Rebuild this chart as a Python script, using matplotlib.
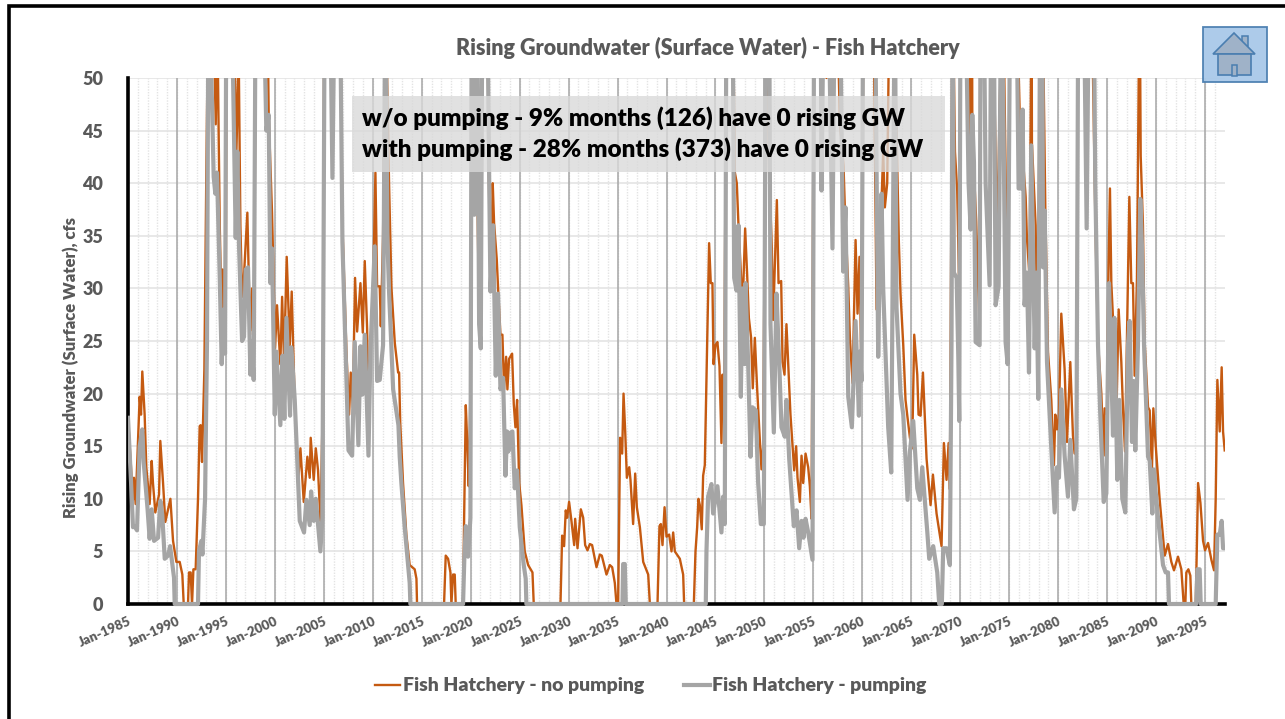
import matplotlib
matplotlib.use('Agg')
import matplotlib.pyplot as plt
from matplotlib.patches import Rectangle, Polygon

plt.rcParams['font.family'] = ['Lato', 'DejaVu Sans']
plt.rcParams['font.weight'] = 800

# values: decimal year, cfs (above 50 is cut off by the axis)
no_pump_years = [
    1985.00, 1985.51, 1985.61, 1985.78, 1986.19, 1986.33, 1986.46, 1986.70, 1986.87, 1987.21,
    1987.42, 1987.55, 1987.79, 1988.17, 1988.30, 1988.58, 1988.81, 1989.09, 1989.33, 1989.60,
    1989.94, 1990.28, 1990.55, 1990.69, 1991.13, 1991.23, 1991.40, 1991.54, 1991.68, 1991.91,
    1992.15, 1992.32, 1992.42, 1992.56, 1992.80, 1993.00, 1993.17, 1993.69, 1993.96, 1994.13,
    1994.37, 1994.57, 1994.67, 1994.78, 1994.98, 1995.08, 1995.73, 1996.07, 1996.31, 1996.48,
    1996.65, 1996.82, 1997.19, 1997.36, 1997.50, 1997.67, 1997.77, 1997.91, 1998.04, 1998.79,
    1999.30, 1999.37, 1999.54, 1999.71, 1999.82, 2000.02, 2000.22, 2000.43, 2000.56, 2000.74,
    2000.94, 2001.21, 2001.52, 2001.72, 2001.99, 2002.37, 2002.61, 2002.95, 2003.32, 2003.56,
    2003.66, 2003.97, 2004.18, 2004.41, 2004.65, 2004.72, 2004.92, 2005.03, 2005.61, 2005.88,
    2006.12, 2006.63, 2006.90, 2007.31, 2007.58, 2007.75, 2007.96, 2008.19, 2008.40, 2008.74,
    2008.98, 2009.18, 2009.42, 2009.56, 2009.76, 2010.03, 2010.27, 2010.44, 2010.71, 2010.82,
    2011.05, 2011.29, 2011.50, 2011.67, 2011.91, 2012.25, 2012.59, 2012.69, 2012.80, 2013.09,
    2013.43, 2013.77, 2014.28, 2014.46, 2014.52, 2017.28, 2017.45, 2017.69, 2017.93, 2018.03,
    2018.20, 2018.37, 2018.47, 2019.22, 2019.33, 2019.50, 2019.67, 2019.80, 2020.01, 2020.18,
    2020.59, 2020.86, 2021.03, 2021.20, 2021.68, 2021.85, 2022.02, 2022.25, 2022.39, 2022.66,
    2022.83, 2023.04, 2023.24, 2023.41, 2023.62, 2023.75, 2023.92, 2024.23, 2024.40, 2024.57,
    2024.74, 2024.95, 2025.18, 2025.52, 2025.87, 2026.31, 2026.44, 2029.17, 2029.34, 2029.54,
    2029.71, 2029.85, 2030.05, 2030.29, 2030.57, 2030.67, 2030.91, 2031.25, 2031.49, 2031.69,
    2031.93, 2032.17, 2032.40, 2032.85, 2033.19, 2033.39, 2033.87, 2034.21, 2034.45, 2034.72,
    2034.89, 2035.06, 2035.16, 2035.26, 2035.47, 2035.61, 2035.78, 2035.95, 2036.19, 2036.32,
    2036.59, 2036.80, 2036.97, 2037.28, 2037.62, 2038.13, 2038.30, 2039.08, 2039.28, 2039.42,
    2039.59, 2039.80, 2040.00, 2040.27, 2040.51, 2040.68, 2040.85, 2041.36, 2041.70, 2041.80,
    2042.79, 2042.96, 2043.13, 2043.26, 2043.40, 2043.60, 2043.74, 2043.91, 2044.08, 2044.35,
    2044.52, 2044.69, 2044.80, 2045.00, 2045.20, 2045.41, 2045.61, 2045.72, 2045.89, 2046.02,
    2046.19, 2046.74, 2046.98, 2047.18, 2047.35, 2047.59, 2047.76, 2048.03, 2048.24, 2048.41,
    2048.64, 2048.81, 2049.02, 2049.26, 2049.53, 2049.70, 2049.87, 2050.07, 2050.28, 2050.48,
    2050.76, 2050.89, 2051.27, 2051.44, 2051.71, 2051.85, 2052.05, 2052.25, 2052.49, 2052.66,
    2053.04, 2053.24, 2053.38, 2053.62, 2053.79, 2053.96, 2054.20, 2054.47, 2054.64, 2054.81,
    2055.08, 2056.00, 2056.34, 2057.02, 2057.36, 2057.70, 2058.08, 2058.22, 2058.56, 2058.73,
    2059.00, 2059.31, 2059.51, 2059.71, 2059.92, 2060.12, 2060.94, 2061.21, 2061.45, 2061.69,
    2061.79, 2062.13, 2062.30, 2062.54, 2062.74, 2063.15, 2063.49, 2063.73, 2063.90, 2064.18,
    2064.41, 2064.58, 2064.86, 2065.09, 2065.30, 2065.61, 2065.74, 2065.95, 2066.19, 2066.56,
    2066.97, 2067.21, 2067.58, 2068.09, 2068.33, 2068.60, 2068.81, 2068.94, 2069.22, 2069.46,
    2069.69, 2069.90, 2070.03, 2070.95, 2071.02, 2071.19, 2071.23, 2071.36, 2071.63, 2071.74,
    2071.98, 2072.08, 2073.00, 2073.27, 2073.68, 2073.78, 2074.02, 2074.36, 2074.70, 2074.73,
    2074.90, 2075.11, 2075.72, 2076.16, 2076.33, 2076.68, 2076.81, 2077.08, 2077.29, 2077.32,
    2077.70, 2077.77, 2077.97, 2078.17, 2078.38, 2078.62, 2078.69, 2078.96, 2079.30, 2079.57,
    2079.71, 2079.88, 2080.08, 2080.32, 2080.66, 2080.90, 2081.24, 2081.51, 2081.68, 2081.85,
    2082.06, 2082.94, 2083.56, 2083.83, 2084.07, 2084.41, 2084.65, 2084.75, 2084.99, 2085.12,
    2085.29, 2085.43, 2085.60, 2085.80, 2085.94, 2086.18, 2086.45, 2086.62, 2086.83, 2087.06,
    2087.27, 2087.47, 2087.64, 2087.81, 2088.05, 2088.32, 2088.43, 2088.66, 2088.83, 2089.18,
    2089.35, 2089.58, 2089.72, 2089.96, 2090.37, 2090.88, 2091.22, 2091.56, 2091.83, 2092.24,
    2092.58, 2092.82, 2092.99, 2093.09, 2093.30, 2093.50, 2093.60, 2094.05, 2094.29, 2094.53,
    2094.80, 2095.00, 2095.31, 2095.65, 2095.92, 2096.09, 2096.26, 2096.50, 2096.70, 2096.84,
    2097.01,
]
no_pump_cfs = [
    17.7, 9.9, 12, 9.5, 19.7, 18, 22.1, 18, 13, 9.5,
    13.6, 11.5, 8.7, 10.4, 15.5, 11.5, 7.8, 9, 10, 6,
    4, 4, 2.8, 0, 0, 3, 3, 0, 3.3, 3.3,
    10, 16.9, 17, 13.5, 22.3, 41, 55, 58, 45.6, 55,
    36, 27, 31.8, 27, 26, 60, 62, 43, 52, 36,
    29.2, 30.8, 37.2, 30, 26, 30, 25.6, 30, 60, 65,
    52, 46.5, 42, 37.2, 33, 24.3, 28.4, 25, 22.8, 29.2,
    23, 33, 24.6, 29.7, 20.4, 11.5, 14.8, 9.7, 14, 12,
    15.8, 11.8, 14.8, 12.7, 7.9, 11, 20, 55, 60, 52,
    60, 60, 36, 24, 18, 22, 18.7, 31, 25.9, 30.5,
    25.8, 32.6, 26.2, 19.4, 24, 30, 41, 30.2, 30.2, 26.4,
    35, 60, 48, 39.7, 30, 24.8, 22, 22, 17.3, 11.5,
    6.6, 3.7, 3.3, 2.4, 0, 0, 4.6, 4.3, 3, 0,
    2.8, 2.8, 0, 0, 8.2, 18.9, 14.8, 11.2, 22, 60,
    45, 27, 24.5, 60, 60, 41, 30, 40, 36.2, 32.8,
    29.4, 25.6, 25.6, 20.4, 23.5, 20.4, 23.3, 23.8, 19, 16.8,
    19.4, 11.5, 9.4, 5, 3.7, 3, 0, 0, 6.5, 5.5,
    8.9, 8.2, 9.7, 7.9, 5.6, 8.1, 5.3, 9, 8.2, 5.6,
    5.1, 5.7, 5.6, 3.5, 4.7, 4.6, 2.8, 3.7, 3.5, 2,
    0, 0, 8, 15.8, 14.3, 20, 16.4, 12, 13, 11.8,
    7.6, 12.4, 9.2, 7.3, 4, 2.8, 0, 0, 7.4, 7.6,
    5.6, 9.2, 6.4, 6.6, 5, 6.8, 5, 4.3, 2.8, 0,
    0, 5, 7.3, 10, 9.4, 7.1, 12.2, 13.2, 21.3, 34.3,
    30.5, 30.5, 22.8, 24.6, 24.9, 22.6, 15.3, 21.8, 18, 41,
    60, 60, 41, 40, 36, 31.6, 27.9, 35.7, 31.2, 27.2,
    25.3, 20.5, 25.3, 20.4, 15.6, 12.8, 15, 41, 60, 41,
    33.8, 27, 38.4, 30.5, 30.7, 23, 21.8, 26.6, 21.7, 18,
    12.7, 15, 12, 9.7, 14.1, 11.5, 14.3, 13, 11.2, 8.1,
    60, 62, 50, 60, 60, 46, 41.6, 37.5, 30.2, 25.3,
    21, 34.6, 27.6, 33, 21.2, 60, 60, 50, 28, 36.4,
    33.5, 43, 37.7, 40, 55, 60, 45, 34.4, 29.5, 24.6,
    19.4, 18, 15.8, 14.8, 25.6, 21.8, 18, 17.9, 22, 13.8,
    9.4, 12.3, 8.6, 5.5, 15.3, 11.8, 15.3, 10.9, 60, 43,
    39.3, 29.5, 60, 60, 44, 60, 46.5, 42, 36.4, 32.8,
    26, 60, 60, 60, 39, 35, 47, 60, 36.4, 32.3,
    30, 60, 60, 43.3, 43.3, 38.7, 34.8, 31, 60, 43.8,
    36, 31.5, 28, 60, 60, 42, 37.5, 24, 19.4, 13.2,
    18, 16.6, 18, 27.6, 22.3, 15.4, 23, 16, 14.3, 15,
    60, 60, 50, 35, 24.9, 20, 14.1, 18.6, 18, 30.5,
    39.5, 30.5, 27.2, 27.2, 17.7, 28, 23, 18.6, 14.5, 27,
    38.7, 30.5, 30.5, 21.7, 31, 60, 42.6, 36, 25, 18.7,
    18.4, 12.8, 18.6, 15.1, 9.9, 4.6, 5.7, 4, 3.2, 4.5,
    3.3, 0, 0, 3, 3.3, 2.7, 0, 0, 11.5, 9.6,
    6, 5.1, 5.8, 4.2, 3.2, 10, 21.3, 16.4, 22.5, 16.4,
    14.6,
]
pump_years = [
    1985.00, 1985.34, 1985.51, 1985.68, 1985.92, 1986.19, 1986.46, 1986.60, 1987.00, 1987.21,
    1987.42, 1987.66, 1988.07, 1988.30, 1988.50, 1988.75, 1989.09, 1989.30, 1989.50, 1989.70,
    1989.77, 1992.15, 1992.25, 1992.49, 1992.60, 1992.87, 1993.07, 1993.20, 1993.40, 1993.75,
    1993.92, 1994.09, 1994.37, 1994.57, 1994.78, 1994.91, 1995.05, 1995.39, 1995.73, 1996.00,
    1996.17, 1996.34, 1996.65, 1996.85, 1997.02, 1997.26, 1997.50, 1997.60, 1997.84, 1998.04,
    1998.79, 1999.13, 1999.37, 1999.54, 1999.71, 1999.99, 2000.15, 2000.56, 2000.77, 2000.97,
    2001.18, 2001.55, 2001.69, 2002.03, 2002.54, 2002.98, 2003.22, 2003.56, 2003.70, 2003.97,
    2004.18, 2004.65, 2004.85, 2005.00, 2005.10, 2005.61, 2005.88, 2006.12, 2006.63, 2006.90,
    2007.31, 2007.52, 2007.89, 2008.16, 2008.53, 2008.74, 2008.94, 2009.18, 2009.56, 2009.76,
    2010.03, 2010.20, 2010.44, 2010.71, 2011.05, 2011.29, 2011.50, 2011.67, 2012.08, 2012.62,
    2012.75, 2012.92, 2013.26, 2013.60, 2013.77, 2013.84, 2019.22, 2019.35, 2019.50, 2019.73,
    2019.97, 2020.11, 2020.31, 2020.38, 2020.65, 2020.86, 2021.03, 2021.20, 2021.68, 2021.88,
    2022.02, 2022.29, 2022.56, 2022.80, 2023.04, 2023.31, 2023.55, 2023.72, 2023.85, 2024.09,
    2024.26, 2024.50, 2024.74, 2025.01, 2025.42, 2025.62, 2025.69, 2035.50, 2035.57, 2035.74,
    2035.84, 2044.01, 2044.08, 2044.25, 2044.59, 2044.76, 2045.20, 2045.61, 2045.78, 2045.95,
    2046.12, 2046.74, 2046.91, 2047.15, 2047.35, 2047.59, 2047.76, 2048.00, 2048.07, 2048.34,
    2048.58, 2048.78, 2049.12, 2049.36, 2049.63, 2049.94, 2050.14, 2050.48, 2050.62, 2050.96,
    2051.23, 2051.51, 2051.74, 2052.08, 2052.25, 2052.53, 2053.00, 2053.28, 2053.55, 2053.79,
    2053.99, 2054.20, 2054.47, 2054.91, 2055.08, 2055.73, 2055.83, 2056.07, 2056.51, 2056.95,
    2057.19, 2057.70, 2058.04, 2058.28, 2058.56, 2058.93, 2059.31, 2059.65, 2059.75, 2059.92,
    2060.09, 2061.28, 2061.62, 2061.79, 2061.96, 2062.13, 2062.64, 2062.95, 2063.15, 2063.32,
    2063.49, 2063.90, 2064.18, 2064.62, 2064.86, 2065.20, 2065.61, 2065.88, 2066.12, 2066.63,
    2066.83, 2067.24, 2067.65, 2067.85, 2068.12, 2068.26, 2068.60, 2068.94, 2069.11, 2069.22,
    2069.35, 2069.63, 2069.80, 2069.90, 2070.03, 2070.51, 2070.85, 2071.06, 2071.23, 2071.40,
    2071.57, 2071.98, 2072.08, 2072.38, 2072.59, 2073.00, 2073.17, 2073.41, 2073.61, 2073.92,
    2074.19, 2074.43, 2074.63, 2074.84, 2075.11, 2075.72, 2075.96, 2076.20, 2076.37, 2076.57,
    2076.81, 2077.02, 2077.25, 2077.60, 2077.77, 2077.97, 2078.17, 2078.38, 2078.45, 2078.62,
    2078.86, 2079.30, 2079.64, 2079.88, 2080.08, 2080.32, 2080.66, 2081.00, 2081.24, 2081.61,
    2081.85, 2082.06, 2082.60, 2082.91, 2083.15, 2083.62, 2083.79, 2084.07, 2084.30, 2084.65,
    2084.92, 2085.19, 2085.43, 2085.60, 2085.74, 2086.04, 2086.25, 2086.55, 2086.86, 2087.13,
    2087.30, 2087.54, 2087.71, 2087.88, 2088.15, 2088.39, 2088.56, 2088.77, 2089.18, 2089.35,
    2089.62, 2089.75, 2090.20, 2090.71, 2090.98, 2091.22, 2091.32, 2094.11, 2094.22, 2094.45,
    2094.56, 2096.09, 2096.26, 2096.50, 2096.70, 2096.84, 2097.04,
]
pump_cfs = [
    17.7, 11, 7.3, 7.4, 7, 15, 16.6, 13.5, 9, 6.2,
    9, 6, 6.3, 9.8, 8.5, 4.3, 4.6, 5.5, 4, 2.5,
    0, 0, 5, 6, 4.7, 10, 25, 55, 55, 40.6,
    39, 41, 31, 22.8, 28, 23.8, 60, 60, 50, 34.8,
    43, 34, 25, 25.4, 31.8, 32, 21.8, 25, 21.3, 60,
    60, 45, 46.5, 30.5, 33.8, 18, 24, 17, 23.6, 17.6,
    27.2, 17.9, 24.4, 19.4, 7.9, 6.8, 9.9, 7.5, 10.7, 7.9,
    10, 5, 8.2, 40, 60, 60, 40.5, 60, 60, 34.4,
    21.3, 14.6, 14.1, 24.9, 15.1, 24.5, 19.9, 25.6, 14.1, 24,
    30, 34, 21.2, 21.3, 24.6, 60, 34.4, 29.5, 20.4, 17,
    14, 11.5, 7.3, 3.7, 2, 0, 0, 4.3, 7.4, 4.5,
    8.2, 60, 60, 37, 60, 26.6, 24.3, 60, 60, 41,
    29.7, 36, 21.7, 29.5, 20.4, 21.5, 12.2, 16.4, 14.5, 16.3,
    16.4, 11, 12.7, 7.3, 3.7, 2.4, 0, 0, 3.8, 3.8,
    0, 0, 5, 10.2, 11.4, 8.6, 11.2, 6.8, 10.2, 7.6,
    60, 60, 31, 29.8, 36, 19.7, 30, 22.8, 30.5, 22.8,
    14, 18.7, 18.4, 11.5, 7.6, 7.6, 60, 60, 26.6, 16.3,
    29.5, 23, 16.8, 15.9, 19.4, 13.8, 7.4, 8.9, 5.3, 7.9,
    6.3, 8.1, 6.8, 4.2, 60, 60, 39.3, 60, 60, 33.8,
    60, 60, 31.6, 37.7, 19.7, 16.8, 26.9, 17.9, 24, 21.2,
    60, 60, 23.5, 33.5, 39, 30, 16.8, 12.5, 38, 60,
    28.2, 20, 18, 9.9, 14.5, 17.4, 11, 9.9, 13, 6.9,
    4.3, 5.5, 3, 0, 0, 5.3, 5.3, 3.7, 25, 60,
    31.5, 31, 23.5, 17.4, 60, 60, 40, 35.6, 46.5, 42,
    24.9, 24.6, 60, 60, 40, 30.3, 60, 60, 28.4, 30.2,
    60, 45, 24.9, 22.8, 60, 60, 39.5, 39.5, 47, 28.4,
    31.5, 22, 43.6, 24.3, 31.5, 19.5, 60, 60, 32, 37.4,
    23, 14.8, 8.7, 13, 12, 20.4, 14.1, 10.2, 15.6, 9,
    10, 60, 60, 35.7, 60, 60, 40, 24.6, 18, 9.7,
    10.5, 30.5, 22.3, 16, 27.2, 11.8, 19.4, 10, 8.7, 24.6,
    26.9, 15.4, 21.2, 14.6, 24.6, 38.5, 34, 24.6, 14, 13.6,
    8.6, 12.8, 8.2, 3.7, 3, 3, 0, 0, 3.3, 3.3,
    0, 0, 6.6, 6.6, 7.9, 5.3, 5.3,
]

major_years = list(range(1985, 2100, 5))
minor_years = list(range(1986, 2097))
major_labels = ['Jan-%d' % y for y in major_years]
y_ticks = list(range(0, 55, 5))

W, H = 1285, 719
fig = plt.figure(figsize=(W / 100, H / 100), dpi=100)
ax = fig.add_axes([128 / W, 1 - 604 / H, (1225 - 128) / W, (604 - 78) / H])

# grid: light dotted every year, darker every 5 years
for yr in minor_years:
    ax.axvline(yr, color='#E3E3E3', linestyle=(0, (1, 1)), linewidth=1, zorder=1)
for yr in major_years[1:]:
    ax.axvline(yr, color='#A6A6A6', linewidth=1.1, zorder=1.2)
ax.grid(axis='y', color='#E2E2E2', linewidth=1.1, zorder=1)
ax.set_axisbelow(True)

# lines may paint over the axis at 0 but stop at 50
clip = Rectangle((1985, -1), 112.04, 51, transform=ax.transData)
orange_line, = ax.plot(no_pump_years, no_pump_cfs, color='#C55A11', linewidth=1.7,
                       solid_joinstyle='round', zorder=3)
gray_line, = ax.plot(pump_years, pump_cfs, color='#A5A5A5', linewidth=3.0,
                     solid_joinstyle='round', zorder=3.2)
orange_line.set_clip_path(clip)
gray_line.set_clip_path(clip)

ax.set_xlim(1985, 2097.04)
ax.set_ylim(0, 50)
ax.set_yticks(y_ticks)
ax.set_xticks(major_years)
ax.set_xticklabels(major_labels, rotation=24, ha='right', rotation_mode='anchor',
                   fontsize=9.5, color='#595959', fontweight=800)
ax.tick_params(axis='x', length=0, pad=8)
ax.tick_params(axis='y', length=0, pad=18, labelsize=13, labelcolor='#595959')

for side in ['top', 'right']:
    ax.spines[side].set_visible(False)
ax.spines['left'].set_linewidth(2.6)
ax.spines['bottom'].set_linewidth(2.6)

# overlay in picture pixels for the box, icon, frame and outside text
over = fig.add_axes([0, 0, 1, 1], zorder=5)
over.set_xlim(0, W)
over.set_ylim(H, 0)
over.axis('off')
over.patch.set_alpha(0)

over.plot([9, 9, W], [H, 6, 6], color='black', linewidth=2.6, solid_joinstyle='miter')

over.add_patch(Rectangle((352, 96), 593, 76, facecolor='#D9D9D9', alpha=0.78, edgecolor='none'))
over.text(362, 118, 'w/o pumping - 9% months (126) have 0 rising GW', fontsize=17.5,
          fontweight=800, color='black', va='center', ha='left')
over.text(362, 149, 'with pumping - 28% months (373) have 0 rising GW', fontsize=17.5,
          fontweight=800, color='black', va='center', ha='left')

over.text(708, 48, 'Rising Groundwater (Surface Water) - Fish Hatchery', fontsize=15.5,
          fontweight=800, color='#595959', ha='center', va='center')
over.text(71, 368, 'Rising Groundwater (Surface Water), cfs', fontsize=12, fontweight=800,
          color='#595959', rotation=90, ha='center', va='center')

# legend
over.plot([375, 400], [685, 685], color='#C55A11', linewidth=1.7)
over.text(403, 685, 'Fish Hatchery - no pumping', fontsize=14, fontweight=800,
          color='#595959', va='center', ha='left')
over.plot([684, 710], [685, 685], color='#A5A5A5', linewidth=3.0)
over.text(712, 685, 'Fish Hatchery - pumping', fontsize=14, fontweight=800,
          color='#595959', va='center', ha='left')

# home button
edge = '#4A7EB0'
over.add_patch(Rectangle((1203, 27), 64, 55, facecolor='#A9C9E9', edgecolor=edge, linewidth=1.3, alpha=0.95))
over.add_patch(Rectangle((1242, 36), 6, 10, facecolor='#9FB2C8', edgecolor=edge, linewidth=1.1))
over.add_patch(Polygon([(1213, 54), (1234, 33), (1255, 54)], closed=True, facecolor='#9FB2C8',
                       edgecolor=edge, linewidth=1.2))
over.add_patch(Rectangle((1218, 54), 33, 21, facecolor='#9FB2C8', edgecolor=edge, linewidth=1.2))
over.add_patch(Rectangle((1232, 65), 5, 11, facecolor='#9FB2C8', edgecolor=edge, linewidth=1.1))

plt.savefig('out.png', dpi=100)
